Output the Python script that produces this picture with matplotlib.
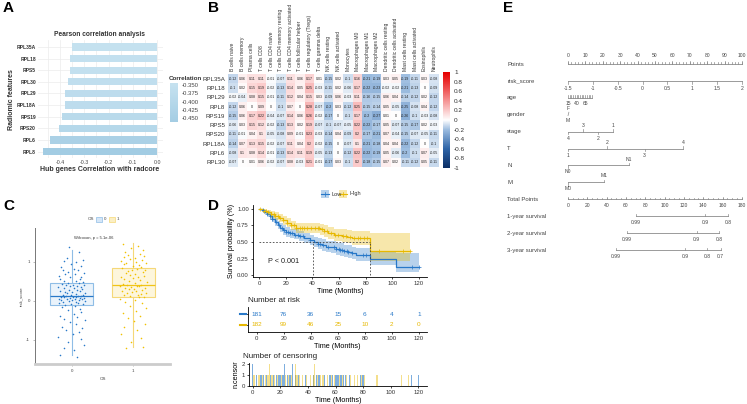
import numpy as np
import matplotlib
matplotlib.use('Agg')
import matplotlib.pyplot as plt
from matplotlib.colors import LinearSegmentedColormap
from matplotlib.lines import Line2D
from matplotlib.patches import Rectangle

plt.rcParams['font.family'] = ['Liberation Sans', 'DejaVu Sans']

# ---------------- DATA ----------------
# Panel A
genes_A = ['RPL35A', 'RPL18', 'RPS5', 'RPL30', 'RPL29', 'RPL18A', 'RPS19', 'RPS20', 'RPL6', 'RPL8']
corr_A = [-0.351, -0.357, -0.357, -0.366, -0.377, -0.377, -0.390, -0.403, -0.439, -0.470]
xticks_A = [-0.4, -0.3, -0.2, -0.1, 0.0]
cbar_ticks_A = [-0.350, -0.375, -0.400, -0.425, -0.450]

# Panel B
rows_B = ['RPL35A', 'RPL18', 'RPL29', 'RPL8', 'RPS19', 'RPS5', 'RPS20', 'RPL18A', 'RPL6', 'RPL30']
cols_B = ['B cells naive', 'B cells memory', 'Plasma cells', 'T cells CD8', 'T cells CD4 naive',
          'T cells CD4 memory resting', 'T cells CD4 memory activated', 'T cells follicular helper',
          'T cells regulatory (Tregs)', 'T cells gamma delta', 'NK cells resting', 'NK cells activated',
          'Monocytes', 'Macrophages M0', 'Macrophages M1', 'Macrophages M2', 'Dendritic cells resting',
          'Dendritic cells activated', 'Mast cells resting', 'Mast cells activated', 'Eosinophils', 'Neutrophils']
vals_B = [
    [-0.12, 0.06, 0.11, 0.11, -0.01, -0.07, 0.11, 0.06, 0.17, 0.01, -0.15, 0.02, -0.10, 0.16, -0.21, -0.19, 0.03, 0.05, -0.19, -0.11, 0.03, -0.08],
    [-0.10, 0.02, 0.15, 0.19, -0.02, -0.13, 0.14, 0.05, 0.25, -0.03, -0.11, 0.02, -0.06, 0.17, -0.22, -0.23, -0.02, -0.02, -0.21, -0.13, 0.00, -0.09],
    [-0.02, -0.04, 0.08, 0.15, -0.01, -0.11, 0.12, 0.04, 0.15, 0.03, -0.09, 0.06, -0.03, 0.11, -0.16, -0.15, 0.06, 0.04, -0.14, -0.12, 0.02, -0.12],
    [-0.12, 0.06, 0.00, 0.09, 0.00, -0.10, 0.07, 0.00, 0.28, -0.07, -0.20, 0.03, -0.12, 0.25, -0.15, -0.14, 0.05, -0.05, -0.25, -0.08, 0.04, -0.12],
    [-0.15, 0.06, 0.17, 0.22, -0.04, -0.07, 0.14, 0.06, 0.26, -0.02, -0.17, 0.00, -0.10, 0.17, -0.20, -0.27, 0.01, 0.00, -0.26, -0.10, -0.03, -0.08],
    [-0.06, 0.03, 0.15, 0.12, -0.02, -0.13, 0.13, 0.02, 0.19, -0.07, -0.10, -0.07, -0.05, 0.22, -0.22, -0.17, 0.05, -0.07, -0.15, -0.17, 0.02, -0.03],
    [-0.11, -0.01, 0.04, 0.10, -0.05, -0.08, 0.09, -0.01, 0.23, -0.03, -0.14, 0.04, -0.09, 0.20, -0.17, -0.21, 0.07, -0.04, -0.15, -0.07, -0.05, -0.11],
    [-0.14, 0.07, 0.13, 0.15, -0.02, -0.07, 0.11, 0.04, 0.20, -0.02, -0.15, 0.00, -0.07, 0.10, -0.21, -0.18, 0.04, 0.04, -0.22, -0.12, 0.00, -0.10],
    [-0.08, 0.10, 0.08, 0.14, -0.01, -0.13, 0.14, 0.11, 0.19, -0.05, -0.13, 0.00, -0.12, 0.22, -0.22, -0.19, 0.05, -0.06, -0.20, -0.10, 0.07, -0.05],
    [-0.07, 0.00, 0.01, 0.06, -0.02, -0.07, 0.08, -0.03, 0.21, -0.01, -0.17, 0.03, -0.10, 0.20, -0.18, -0.15, 0.07, 0.02, -0.11, -0.12, 0.05, -0.11],
]
cbar_ticks_B = [1, 0.8, 0.6, 0.4, 0.2, 0, -0.2, -0.4, -0.6, -0.8, -1]

# Panel C
os_groups = ['0', '1']
blue_y = [-1.45, -1.38, -1.25, -1.2, -1.12, -1.05, -0.98, -0.92, -0.85, -0.8, -0.75, -0.7, -0.66, -0.6, -0.55,
          -0.5, -0.46, -0.42, -0.38, -0.33, -0.28, -0.24, -0.2, -0.15, -0.12,
          -0.1, -0.09, -0.07, -0.06, -0.05, -0.03, -0.02, 0.0, 0.0, 0.01, 0.02, 0.03, 0.04, 0.05, 0.05,
          0.06, 0.07, 0.08, 0.08, 0.09, 0.1, 0.1, 0.11, 0.12, 0.12,
          0.13, 0.14, 0.15, 0.16, 0.17, 0.19, 0.2, 0.22, 0.23, 0.25, 0.26, 0.28, 0.29, 0.3, 0.32,
          0.33, 0.35, 0.36, 0.38, 0.39, 0.4, 0.41, 0.42, 0.44, 0.45,
          0.47, 0.49, 0.5, 0.52, 0.55, 0.57, 0.6, 0.62, 0.65, 0.68, 0.7, 0.72, 0.75, 0.78, 0.8,
          0.83, 0.87, 0.9, 0.95, 1.0, 1.02, 1.05, 1.1, 1.25, 1.38]
blue_dx = [0.12, -0.25, 0.05, -0.18, 0.27, -0.08, 0.19, -0.29, 0.02, 0.15,
           -0.12, 0.23, -0.21, 0.08, -0.03, 0.29, -0.16, 0.11, -0.26, 0.04,
           0.21, -0.09, 0.17, -0.22, 0.06, -0.14, 0.25, -0.01, 0.13, -0.27,
           0.09, -0.19, 0.28, -0.06, 0.16, -0.24, 0.01, 0.22, -0.11, 0.07,
           -0.28, 0.18, -0.04, 0.26, -0.17, 0.1, -0.23, 0.03, 0.2, -0.13,
           0.14, -0.02, 0.24, -0.2, 0.08, -0.1, 0.28, -0.15, 0.0, 0.17,
           -0.26, 0.11, -0.07, 0.23, -0.18, 0.05, -0.29, 0.19, -0.05, 0.12,
           0.27, -0.12, 0.02, -0.22, 0.15, -0.08, 0.25, -0.16, 0.09, -0.25,
           0.18, -0.03, 0.21, -0.27, 0.06, -0.14, 0.26, -0.09, 0.13, -0.2,
           0.04, -0.24, 0.2, -0.01, 0.1, -0.17, 0.24, -0.11, 0.16, -0.06]
yellow_y = [-1.2, -1.18, -1.05, -0.95, -0.85, -0.75, -0.68, -0.6, -0.52, -0.45, -0.38, -0.3, -0.25, -0.18,
            -0.12, -0.06, -0.02, 0.03, 0.06, 0.09,
            0.1, 0.12, 0.14, 0.16, 0.18, 0.2, 0.21, 0.23, 0.25, 0.26, 0.28, 0.3, 0.31, 0.33, 0.34, 0.36,
            0.37, 0.38, 0.39, 0.4,
            0.42, 0.44, 0.47, 0.49, 0.52, 0.54, 0.56, 0.58, 0.6, 0.62, 0.65, 0.67, 0.7, 0.72, 0.74, 0.76,
            0.78, 0.8, 0.82, 0.85,
            0.87, 0.9, 0.92, 0.94, 0.96, 0.98, 1.0, 1.02, 1.05, 1.08, 1.1, 1.12, 1.15, 1.18, 1.2, 1.25,
            1.3, 1.35, 1.4, 1.45]
yellow_dx = [-0.15, 0.22, -0.04, 0.17, -0.27, 0.09, -0.2, 0.26, 0.01, -0.11,
             0.14, -0.23, 0.06, 0.28, -0.08, 0.19, -0.17, 0.03, -0.29, 0.12,
             0.24, -0.06, 0.1, -0.21, 0.16, -0.13, 0.27, -0.02, 0.07, -0.25,
             0.2, -0.1, 0.02, -0.18, 0.25, -0.05, 0.13, -0.28, 0.08, -0.14,
             0.18, -0.22, 0.04, 0.29, -0.09, 0.15, -0.19, 0.0, -0.26, 0.11,
             0.23, -0.07, 0.05, -0.16, 0.21, -0.12, 0.26, -0.03, 0.09, -0.24,
             0.17, -0.01, 0.12, -0.2, 0.28, -0.15, 0.06, -0.27, 0.19, -0.08,
             0.03, -0.21, 0.24, -0.11, 0.14, -0.18, 0.22, -0.04, 0.1, -0.23]
box_med = [0.12, 0.41]
box_q1 = [-0.10, 0.10]
box_q3 = [0.45, 0.85]
box_lo = [-1.38, -1.18]
box_hi = [1.30, 1.48]
yticks_C = [-1, 0, 1]

# Panel D (Kaplan-Meier)
low_t = [0, 2, 4, 6, 8, 10, 12, 14, 16, 18, 20, 23, 26, 30, 34, 38, 41, 44, 47, 50, 54, 58, 61, 64, 67, 70, 73, 83.6, 102.5, 120]
low_s = [1.0, .98, .96, .93, .89, .85, .80, .75, .71, .68, .65, .63, .61, .59, .56, .53, .50, .47, .45, .43, .42, .40, .38, .36, .35, .33, .31, .25, .12, .12]
low_lo = [1.0, .96, .93, .89, .84, .80, .74, .69, .65, .61, .58, .56, .54, .51, .48, .45, .42, .39, .37, .35, .33, .31, .29, .27, .26, .24, .21, .15, .04, .04]
low_hi = [1.0, 1.0, .99, .97, .94, .91, .86, .82, .78, .75, .72, .70, .69, .66, .64, .61, .58, .56, .54, .52, .51, .49, .48, .46, .45, .43, .41, .37, .33, .33]
high_t = [0, 3, 6, 9, 12, 15, 18, 21, 24, 28, 46, 49, 52, 56, 62, 66, 70, 83.6, 113]
high_s = [1.0, .97, .95, .92, .89, .86, .83, .79, .75, .71, .69, .66, .63, .61, .59, .58, .56, .36, .36]
high_lo = [1.0, .94, .91, .87, .84, .80, .76, .72, .68, .64, .61, .58, .55, .52, .50, .48, .46, .21, .21]
high_hi = [1.0, 1.0, .99, .97, .95, .92, .89, .86, .82, .79, .77, .75, .72, .70, .69, .68, .67, .64, .64]
low_cens_1 = [3, 6, 8, 10, 13, 15, 17, 19, 20, 22, 25, 27, 31, 33, 38, 44, 46, 48, 52, 56, 58, 60, 61, 62, 64, 66, 67, 70, 78, 80, 115, 120]
low_cens_2 = [0, 23, 29]
high_cens_1 = [1, 4, 5, 7, 9, 11, 14, 16, 18, 21, 24, 26, 28, 32, 34, 36, 39, 42, 44, 47, 49, 51, 54, 57, 59, 63, 65, 68, 71, 74, 76, 79, 81, 90, 108, 113]
high_cens_2 = [12, 31, 45]
median_low = 40.3
median_high = 83.6
risk_times = [0, 20, 40, 60, 80, 100, 120]
risk_low = [181, 76, 36, 15, 6, 4, 1]
risk_high = [182, 99, 46, 25, 10, 2, 0]
time_ticks = [0, 20, 40, 60, 80, 100, 120]
surv_ticks = [0.0, 0.25, 0.5, 0.75, 1.0]

# Panel E (nomogram)
nomo_rows = ['Points', 'risk_score', 'age', 'gender', 'stage', 'T', 'N', 'M',
             'Total Points', '1-year survival', '2-year survival', '3-year survival']
points_labels = [0, 10, 20, 30, 40, 50, 60, 70, 80, 90, 100]
risk_labels = ['-1.5', '-1', '-0.5', '0', '0.5', '1', '1.5', '2']
risk_pts = [0, 14.3, 28.6, 42.9, 57.1, 71.4, 85.7, 100]
age_tick_pts = [0, 1.0, 2.0, 2.9, 3.9, 4.9, 5.9, 6.9, 7.8, 8.8, 9.8, 10.8, 11.8, 12.7, 13.7]
age_labels = ['15', '40', '65']
age_label_pts = [0, 4.9, 9.8]
gender_labels = ['F', 'M']
gender_pts = [0, 0]
stage_labels = ['4', '3', '2', '1']
stage_pts = [0, 8.6, 17.2, 25.9]
T_labels = ['1', '2', '3', '4']
T_pts = [0, 22.4, 44, 66]
N_labels = ['N0', 'N1']
N_pts = [0, 35]
M_labels = ['M0', 'M1']
M_pts = [0, 20.7]
total_labels = [0, 20, 40, 60, 80, 100, 120, 140, 160, 180]
surv1_labels = ['0.99', '0.9', '0.8']
surv1_tp = [70.4, 141.7, 165.5]
surv2_labels = ['0.99', '0.9', '0.8']
surv2_tp = [61, 133, 156]
surv3_labels = ['0.99', '0.9', '0.8', '0.7']
surv3_tp = [49.6, 121, 143.7, 158]

# ---------------- FIGURE ----------------
W, H = 747, 404
fig = plt.figure(figsize=(W / 100, H / 100), dpi=100)


def axpx(l, t, r, b):
    return fig.add_axes([l / W, 1 - b / H, (r - l) / W, (b - t) / H])


def ftext(x, y, s, **kw):
    return fig.text(x / W, 1 - y / H, s, **kw)


BLUE = '#2878C8'
YEL = '#E7B800'

# panel letters
for lab, x, y in [('A', 3, 8), ('B', 208, 8), ('E', 503, 8), ('C', 3, 206), ('D', 208, 206)]:
    ftext(x, y, lab, fontsize=11, fontweight='bold', va='center', ha='left')

# ---------------- Panel A ----------------
axA = axpx(38, 40, 163, 158)
n = len(genes_A)
ypos = np.arange(n)[::-1] + 1
cmapA = LinearSegmentedColormap.from_list('a', ['#a2cce3', '#c6e2f0'])
normA = plt.Normalize(-0.47, -0.345)
axA.barh(ypos, corr_A, height=0.62, color=cmapA(normA(np.array(corr_A))), zorder=2)
axA.set_ylim(0.45, n + 0.6)
axA.set_xlim(-0.49, 0.024)
axA.set_yticks(ypos)
axA.set_yticklabels(genes_A, fontsize=3.6, fontweight='bold', color='#333333')
axA.set_xticks(xticks_A)
axA.set_xticklabels([f'{v:.1f}' for v in xticks_A], fontsize=3.8, color='#444444')
axA.set_xticks([-0.45, -0.35, -0.25, -0.15, -0.05], minor=True)
axA.grid(True, which='both', color='#ececec', lw=0.5)
axA.set_axisbelow(True)
for s in axA.spines.values():
    s.set_visible(False)
axA.tick_params(which='both', length=0, pad=1.5)
ftext(100, 34, 'Pearson correlation analysis', ha='center', va='center', fontsize=4.8, fontweight='bold', color='#333333')
ftext(12, 100, 'Radiomic features', ha='center', va='center', rotation=90, fontsize=5.0, fontweight='bold', color='#333333')
ftext(100, 170, 'Hub genes Correlation with radcore', ha='center', va='center', fontsize=5.0, fontweight='bold', color='#333333')
# legend colorbar
ftext(169, 79, 'Correlation', fontsize=4.5, fontweight='bold', va='center', ha='left', color='#333333')
axAc = axpx(170, 83, 178, 122)
grad = np.linspace(-0.344, -0.462, 50).reshape(-1, 1)
axAc.imshow(grad, cmap=cmapA, norm=normA, aspect='auto', extent=[0, 1, -0.462, -0.344])
axAc.set_ylim(-0.462, -0.344)
axAc.set_xticks([])
axAc.yaxis.tick_right()
axAc.set_yticks(cbar_ticks_A)
axAc.set_yticklabels([f'{v:.3f}' for v in cbar_ticks_A], fontsize=4.3, color='#444444')
axAc.tick_params(axis='y', length=1.5, width=0.4, color='white', pad=1.5)
for s in axAc.spines.values():
    s.set_visible(False)

# ---------------- Panel B ----------------
cmapB = LinearSegmentedColormap.from_list(
    'b', [(0.0, '#0b2f66'), (0.2, '#2f65a8'), (0.4, '#9dbde0'), (0.5, '#ffffff'),
          (0.6, '#fbcaca'), (0.8, '#f06060'), (1.0, '#e60000')])
axB = axpx(228, 74, 439, 167)
mat = np.array(vals_B)
axB.imshow(mat, cmap=cmapB, vmin=-1, vmax=1, aspect='auto')
for i in range(mat.shape[0]):
    for j in range(mat.shape[1]):
        v = mat[i, j]
        s = f'{v:.2f}'.rstrip('0').rstrip('.')
        if s in ('-0', '-', ''):
            s = '0'
        axB.text(j, i, s, ha='center', va='center', fontsize=2.6, color='#222222')
axB.set_yticks(range(len(rows_B)))
axB.set_yticklabels(rows_B, fontsize=4.4, color='#333333')
axB.xaxis.tick_top()
axB.set_xticks(range(len(cols_B)))
axB.set_xticklabels(cols_B, rotation=90, fontsize=3.6, color='#333333')
axB.tick_params(length=0, pad=2)
for s in axB.spines.values():
    s.set_visible(False)
axBc = axpx(443, 72, 450, 168)
gradB = np.linspace(1, -1, 200).reshape(-1, 1)
axBc.imshow(gradB, cmap=cmapB, vmin=-1, vmax=1, aspect='auto', extent=[0, 1, -1, 1])
axBc.set_ylim(-1, 1)
axBc.set_xticks([])
axBc.yaxis.tick_right()
axBc.set_yticks(cbar_ticks_B)
axBc.set_yticklabels([('%g' % v) for v in cbar_ticks_B], fontsize=4.6, color='#333333')
axBc.tick_params(axis='y', length=0, pad=3)
for s in axBc.spines.values():
    s.set_visible(False)

# ---------------- Panel C ----------------
axC = axpx(35, 228, 170, 364)
jit = 0.75
bxp_stats = []
for k in range(2):
    bxp_stats.append(dict(med=box_med[k], q1=box_q1[k], q3=box_q3[k], whislo=box_lo[k], whishi=box_hi[k], fliers=[], label=os_groups[k]))
for k, (col, edge, fill) in enumerate([(BLUE, '#8fbde6', '#eaf3fb'), ('#F0C419', '#f5d878', '#fdf6dc')]):
    axC.bxp([bxp_stats[k]], positions=[k], widths=0.7, showcaps=False, patch_artist=True,
            boxprops=dict(facecolor=fill, edgecolor=edge, lw=0.8),
            whiskerprops=dict(color=edge, lw=0.8),
            medianprops=dict(color=col, lw=0.9), manage_ticks=False)
axC.scatter(0 + np.array(blue_dx) * jit, blue_y, s=1.3, color=BLUE, lw=0, zorder=3)
axC.scatter(1 + np.array(yellow_dx) * jit, yellow_y, s=1.3, color='#F2C200', lw=0, zorder=3)
axC.set_xlim(-0.6, 1.6)
axC.set_ylim(-1.62, 1.87)
axC.set_xticks([0, 1])
axC.set_xticklabels(os_groups, fontsize=3.2, color='#444444')
axC.set_yticks(yticks_C)
axC.set_yticklabels([str(v) for v in yticks_C], fontsize=3.2, color='#444444')
axC.tick_params(length=1.5, width=0.4, pad=2, color='#888888')
axC.spines['top'].set_visible(False)
axC.spines['right'].set_visible(False)
axC.spines['left'].set_color('#777777')
axC.spines['left'].set_linewidth(0.7)
axC.spines['bottom'].set_color('#cccccc')
axC.spines['bottom'].set_linewidth(2.0)
axC.set_xlabel('OS', fontsize=3.2, labelpad=3, color='#444444')
axC.set_ylabel('risk_score', fontsize=3.2, labelpad=2, color='#444444')
axC.text(0.35, 1.62, 'Wilcoxon, p = 5.1e-06', fontsize=3.0, ha='center', va='center', color='#333333')
# legend
ftext(88, 219, 'OS', fontsize=3.2, va='center', ha='left', color='#444444')
fig.add_artist(Rectangle((96 / W, 1 - 222 / H), 6 / W, 5 / H, facecolor='#d5e6f7', edgecolor='#8fbde6', lw=0.5))
ftext(104, 219, '0', fontsize=3.2, va='center', ha='left', color='#444444')
fig.add_artist(Rectangle((109 / W, 1 - 222 / H), 6 / W, 5 / H, facecolor='#fbefc4', edgecolor='#f5d878', lw=0.5))
ftext(117, 219, '1', fontsize=3.2, va='center', ha='left', color='#444444')

# ---------------- Panel D ----------------
def step_at(tt, ss, x):
    idx = np.searchsorted(tt, x, side='right') - 1
    return np.array(ss)[np.clip(idx, 0, len(ss) - 1)]

axD = axpx(253, 205, 427, 277)
axD.fill_between(low_t, low_lo, low_hi, step='post', color=BLUE, alpha=0.33, lw=0)
axD.fill_between(high_t, high_lo, high_hi, step='post', color=YEL, alpha=0.33, lw=0)
axD.step(low_t, low_s, where='post', color=BLUE, lw=0.9)
axD.step(high_t, high_s, where='post', color=YEL, lw=0.9)
lc = np.array(low_cens_1 + low_cens_2, dtype=float)
hc = np.array(high_cens_1 + high_cens_2, dtype=float)
lc = lc[lc > 0]
axD.plot(lc, step_at(low_t, low_s, lc), '+', color=BLUE, ms=2.2, mew=0.5)
axD.plot(hc, step_at(high_t, high_s, hc), '+', color=YEL, ms=2.2, mew=0.5)
axD.plot([0, median_high], [0.5, 0.5], ls=(0, (2, 2)), color='#444444', lw=0.6)
axD.plot([median_low, median_low], [0, 0.5], ls=(0, (2, 2)), color='#444444', lw=0.6)
axD.plot([median_high, median_high], [0, 0.5], ls=(0, (2, 2)), color='#444444', lw=0.6)
axD.text(7, 0.2, 'P < 0.001', fontsize=5.2, va='center', ha='left', color='#222222')
axD.set_xlim(-4.5, 126)
axD.set_ylim(-0.03, 1.06)
axD.set_xticks(time_ticks)
axD.set_xticklabels([str(v) for v in time_ticks], fontsize=4.3, color='#333333')
axD.set_yticks(surv_ticks)
axD.set_yticklabels([f'{v:.2f}' for v in surv_ticks], fontsize=4.3, color='#333333')
axD.tick_params(length=1.5, width=0.5, pad=1.5)
axD.spines['top'].set_visible(False)
axD.spines['right'].set_visible(False)
axD.spines['left'].set_linewidth(0.6)
axD.spines['bottom'].set_linewidth(0.6)
axD.set_xlabel('Time (Months)', fontsize=5.2, labelpad=1.5)
axD.set_ylabel('Survival probability (%)', fontsize=5.2, labelpad=1.5)
# legend
for x0, col, lab in [(322, BLUE, 'Low'), (340, YEL, 'High')]:
    fig.add_artist(Rectangle(((x0 - 1) / W, 1 - 198 / H), 8 / W, 8 / H, facecolor=col, alpha=0.33, lw=0))
    fig.add_artist(Line2D([(x0 - 1) / W, (x0 + 7) / W], [1 - 194 / H] * 2, color=col, lw=0.8))
    fig.add_artist(Line2D([(x0 + 3) / W] * 2, [1 - 196 / H, 1 - 192 / H], color=col, lw=0.5))
    ftext(x0 + 9, 194, lab, fontsize=4.0, va='center', ha='left', color='#333333')

# risk table
axR = axpx(248, 307, 427, 332)
for t, a, b in zip(risk_times, risk_low, risk_high):
    axR.text(t, 1, str(a), color=BLUE, fontsize=4.6, ha='center', va='center')
    axR.text(t, 0, str(b), color=YEL, fontsize=4.6, ha='center', va='center')
axR.set_xlim(-6.4, 126)
axR.set_ylim(-0.64, 1.64)
axR.set_xticks(time_ticks)
axR.set_xticklabels([str(v) for v in time_ticks], fontsize=4.3, color='#333333')
axR.set_yticks([0, 1])
axR.set_yticklabels(['', ''])
axR.tick_params(length=1.5, width=0.5, pad=1.5)
axR.spines['top'].set_visible(False)
axR.spines['right'].set_visible(False)
axR.spines['left'].set_linewidth(0.6)
axR.spines['bottom'].set_linewidth(0.6)
axR.set_xlabel('Time (Months)', fontsize=5.2, labelpad=1.5)
ftext(248, 301, 'Number at risk', fontsize=5.8, va='center', ha='left', color='#222222')
fig.add_artist(Line2D([240 / W, 246 / W], [1 - 314 / H] * 2, color=BLUE, lw=1.5))
fig.add_artist(Line2D([240 / W, 246 / W], [1 - 325 / H] * 2, color=YEL, lw=1.5))

# censoring plot
axN = axpx(249, 363, 427, 386)
axN.bar(low_cens_1, [1] * len(low_cens_1), width=0.9, color=BLUE, alpha=0.6, lw=0)
axN.bar(low_cens_2, [2] * len(low_cens_2), width=0.9, color=BLUE, alpha=0.6, lw=0)
axN.bar(high_cens_1, [1] * len(high_cens_1), width=0.9, color=YEL, alpha=0.45, lw=0)
axN.bar(high_cens_2, [2] * len(high_cens_2), width=0.9, color=YEL, alpha=0.45, lw=0)
axN.set_xlim(-2.7, 126.3)
axN.set_ylim(0, 2.05)
axN.set_xticks(time_ticks)
axN.set_xticklabels([str(v) for v in time_ticks], fontsize=4.3, color='#333333')
axN.set_yticks([0, 1, 2])
axN.set_yticklabels(['0', '1', '2'], fontsize=4.3, color='#333333')
axN.tick_params(length=1.5, width=0.5, pad=1.5)
axN.spines['top'].set_visible(False)
axN.spines['right'].set_visible(False)
axN.spines['left'].set_linewidth(0.6)
axN.spines['bottom'].set_linewidth(0.6)
axN.set_xlabel('Time (Months)', fontsize=5.2, labelpad=1.0)
axN.set_ylabel('n.censor', fontsize=5.2, labelpad=1.5)
ftext(243, 356, 'Number of censoring', fontsize=5.8, va='center', ha='left', color='#222222')

# ---------------- Panel E ----------------
axE = axpx(500, 40, 747, 270)
axE.set_xlim(-39.1, 102.9)
axE.set_ylim(12.18, -1.42)
axE.axis('off')
GR = '#8a8a8a'
FS = 3.6
TK = 0.14


def nline(row, x0, x1):
    axE.plot([x0, x1], [row, row], color=GR, lw=0.6)


def ntick(row, x, up=True, length=TK):
    axE.plot([x, x], [row, row - length if up else row + length], color=GR, lw=0.5)


def nlab(row, x, s, above=True, off=0.38):
    axE.text(x, row - off if above else row + off, s, fontsize=FS, ha='center', va='center', color='#444444')


for i, name in enumerate(nomo_rows):
    axE.text(-35, i, name, fontsize=4.3, ha='left', va='center', color='#444444')

# Points
nline(0, 0, 100)
for v in points_labels:
    ntick(0, v, up=True, length=0.2)
    nlab(0, v, str(v), above=True, off=0.5)
for v in range(0, 101, 2):
    ntick(0, v, up=True, length=0.1)
# risk_score
nline(1, 0, 100)
for s, p in zip(risk_labels, risk_pts):
    ntick(1, p, up=False, length=0.18)
    nlab(1, p, s, above=False, off=0.45)
# age
nline(2, 0, age_tick_pts[-1])
for p in age_tick_pts:
    ntick(2, p, up=True, length=0.15)
for s, p in zip(age_labels, age_label_pts):
    nlab(2, p, s, above=False, off=0.35)
# gender
axE.plot([0, 0.5], [3.05, 2.85], color=GR, lw=0.5)
nlab(3, gender_pts[0], gender_labels[0], above=True, off=0.35)
nlab(3, gender_pts[1], gender_labels[1], above=False, off=0.35)
# stage, T, N, M
for row, labs, pts in [(4, stage_labels, stage_pts), (5, T_labels, T_pts), (6, N_labels, N_pts), (7, M_labels, M_pts)]:
    nline(row, min(pts), max(pts))
    for k, (s, p) in enumerate(zip(labs, pts)):
        above = (k % 2 == 1)
        ntick(row, p, up=above, length=0.15)
        nlab(row, p, s, above=above, off=0.38)
# Total Points
nline(8, 0, 100)
for v in total_labels:
    ntick(8, v / 1.8, up=True, length=0.15)
    nlab(8, v / 1.8, str(v), above=False, off=0.35)
for v in range(0, 181, 5):
    ntick(8, v / 1.8, up=True, length=0.1)
# survival rows
for row, labs, tps in [(9, surv1_labels, surv1_tp), (10, surv2_labels, surv2_tp), (11, surv3_labels, surv3_tp)]:
    nline(row, min(tps) / 1.8, max(tps) / 1.8)
    for s, tp in zip(labs, tps):
        ntick(row, tp / 1.8, up=True, length=0.15)
        nlab(row, tp / 1.8, s, above=False, off=0.38)

fig.savefig('out.png', dpi=100, facecolor='white')
